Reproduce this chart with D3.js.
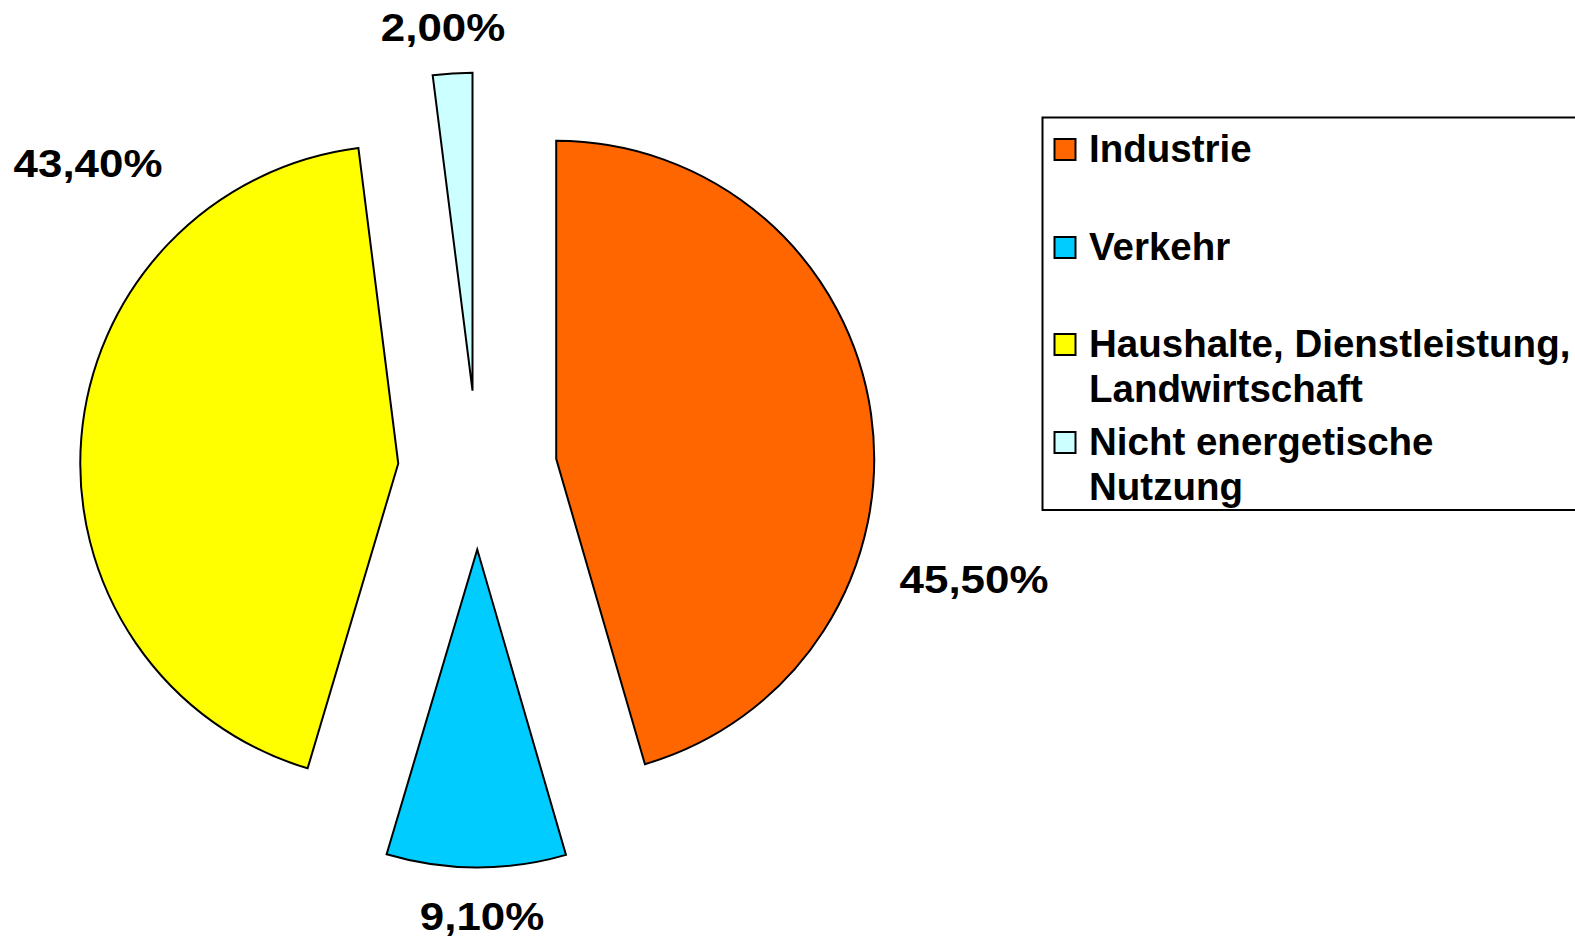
<!DOCTYPE html>
<html>
<head>
<meta charset="utf-8">
<script src="https://cdn.jsdelivr.net/npm/d3@7"></script>
<style>
  html, body { margin: 0; padding: 0; background: #ffffff; }
  svg { display: block; }
  text { font-family: "Liberation Sans", Arial, Helvetica, sans-serif; font-weight: bold; fill: #000; }
</style>
</head>
<body>
<svg id="chart" width="1575" height="940"></svg>
<script>
// ---- Data ----
const categories = ["Industrie", "Verkehr", "Haushalte, Dienstleistung, Landwirtschaft", "Nicht energetische Nutzung"];
const values = [45.5, 9.1, 43.4, 2.0];
const valueLabels = ["45,50%", "9,10%", "43,40%", "2,00%"];
const legendLines = [["Industrie"], ["Verkehr"], ["Haushalte, Dienstleistung,", "Landwirtschaft"], ["Nicht energetische", "Nutzung"]];
const colors = ["#FF6600", "#00CCFF", "#FFFF00", "#CCFFFF"];

// ---- Layout (not data) ----
const cx = 477.5, cy = 470, R = 318, explode = 79.5;
const labelPos = [[974, 593], [482, 930], [88, 177], [443, 41]]; // text anchor points (center, baseline)

const svg = d3.select("#chart");

const pie = d3.pie().sort(null).value(d => d).startAngle(0).endAngle(2 * Math.PI);
const arcs = pie(values);
const arc = d3.arc().innerRadius(0).outerRadius(R);

const g = svg.append("g").attr("transform", `translate(${cx},${cy})`);
g.selectAll("path.slice")
  .data(arcs)
  .join("path")
  .attr("class", "slice")
  .attr("d", arc)
  .attr("fill", (d, i) => colors[i])
  .attr("stroke", "#000")
  .attr("stroke-width", 2)
  .attr("stroke-linejoin", "miter")
  .attr("transform", d => {
    const mid = (d.startAngle + d.endAngle) / 2;
    return `translate(${Math.sin(mid) * explode},${-Math.cos(mid) * explode})`;
  });

// value labels
svg.selectAll("text.val")
  .data(arcs)
  .join("text")
  .attr("class", "val")
  .attr("text-anchor", "middle")
  .attr("font-size", 38.5)
  .attr("transform", (d, i) => `translate(${labelPos[i][0]},${labelPos[i][1]}) scale(1.14,1)`)
  .text((d, i) => valueLabels[i]);

// legend
const leg = svg.append("g");
leg.append("rect")
  .attr("x", 1042.5).attr("y", 117.5)
  .attr("width", 600).attr("height", 392.5)
  .attr("fill", "#fff").attr("stroke", "#000").attr("stroke-width", 2);

const baselines = [162, 260, 357, 455];
const lineH = 45;
const textX = 1089;
categories.forEach((c, i) => {
  leg.append("rect")
    .attr("x", 1054.5).attr("y", baselines[i] - 23)
    .attr("width", 21).attr("height", 21)
    .attr("fill", colors[i]).attr("stroke", "#000").attr("stroke-width", 2);
  const t = leg.append("text")
    .attr("x", textX).attr("y", baselines[i])
    .attr("font-size", 38.5);
  legendLines[i].forEach((ln, j) => {
    t.append("tspan").attr("x", textX).attr("y", baselines[i] + j * lineH).text(ln);
  });
});
</script>
</body>
</html>
